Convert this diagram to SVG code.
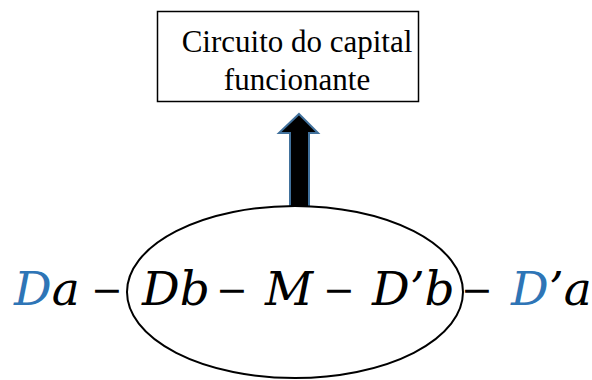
<svg xmlns="http://www.w3.org/2000/svg" width="592" height="380" viewBox="0 0 592 380">
<style>
.box{fill:#fff;stroke:#000;stroke-width:1.5}
.lbl{font-family:"Liberation Serif",serif;font-size:31px;fill:#000}
.m{font-family:"DejaVu Serif",serif;font-style:italic;font-size:47px;fill:#000}
.d{font-family:"DejaVu Serif",serif;font-size:38px;fill:#000}
.b{fill:#2e75b6}
</style>
<rect width="592" height="380" fill="#fff"/>
<g id="box">
<rect class="box" x="157.5" y="11.5" width="261" height="90"/>
<text class="lbl" x="297" y="52" text-anchor="middle">Circuito do capital</text>
<text class="lbl" x="297" y="90" text-anchor="middle">funcionante</text>
</g>
<g id="connectors">
<path d="M299,114 L318,133 L309,133 L309,207 L290,207 L290,133 L279,133 Z" fill="#000" stroke="#41719c" stroke-width="2" stroke-linejoin="miter"/>
</g>
<g id="ellipse">
<ellipse cx="295" cy="292" rx="168" ry="86" fill="#fff" stroke="#000" stroke-width="2"/>
</g>
<g id="formula">
<text class="d" y="303"><tspan x="91">−</tspan><tspan x="216">−</tspan><tspan x="323">−</tspan><tspan x="461">−</tspan></text>
<text class="m" x="14" y="305"><tspan class="b">D</tspan>a</text>
<text class="m" x="142" y="305">Db</text>
<text class="m" x="265" y="305">M</text>
<text class="m" x="372" y="305">D’b</text>
<text class="m" x="511" y="305"><tspan class="b">D</tspan>’a</text>
</g>
</svg>
